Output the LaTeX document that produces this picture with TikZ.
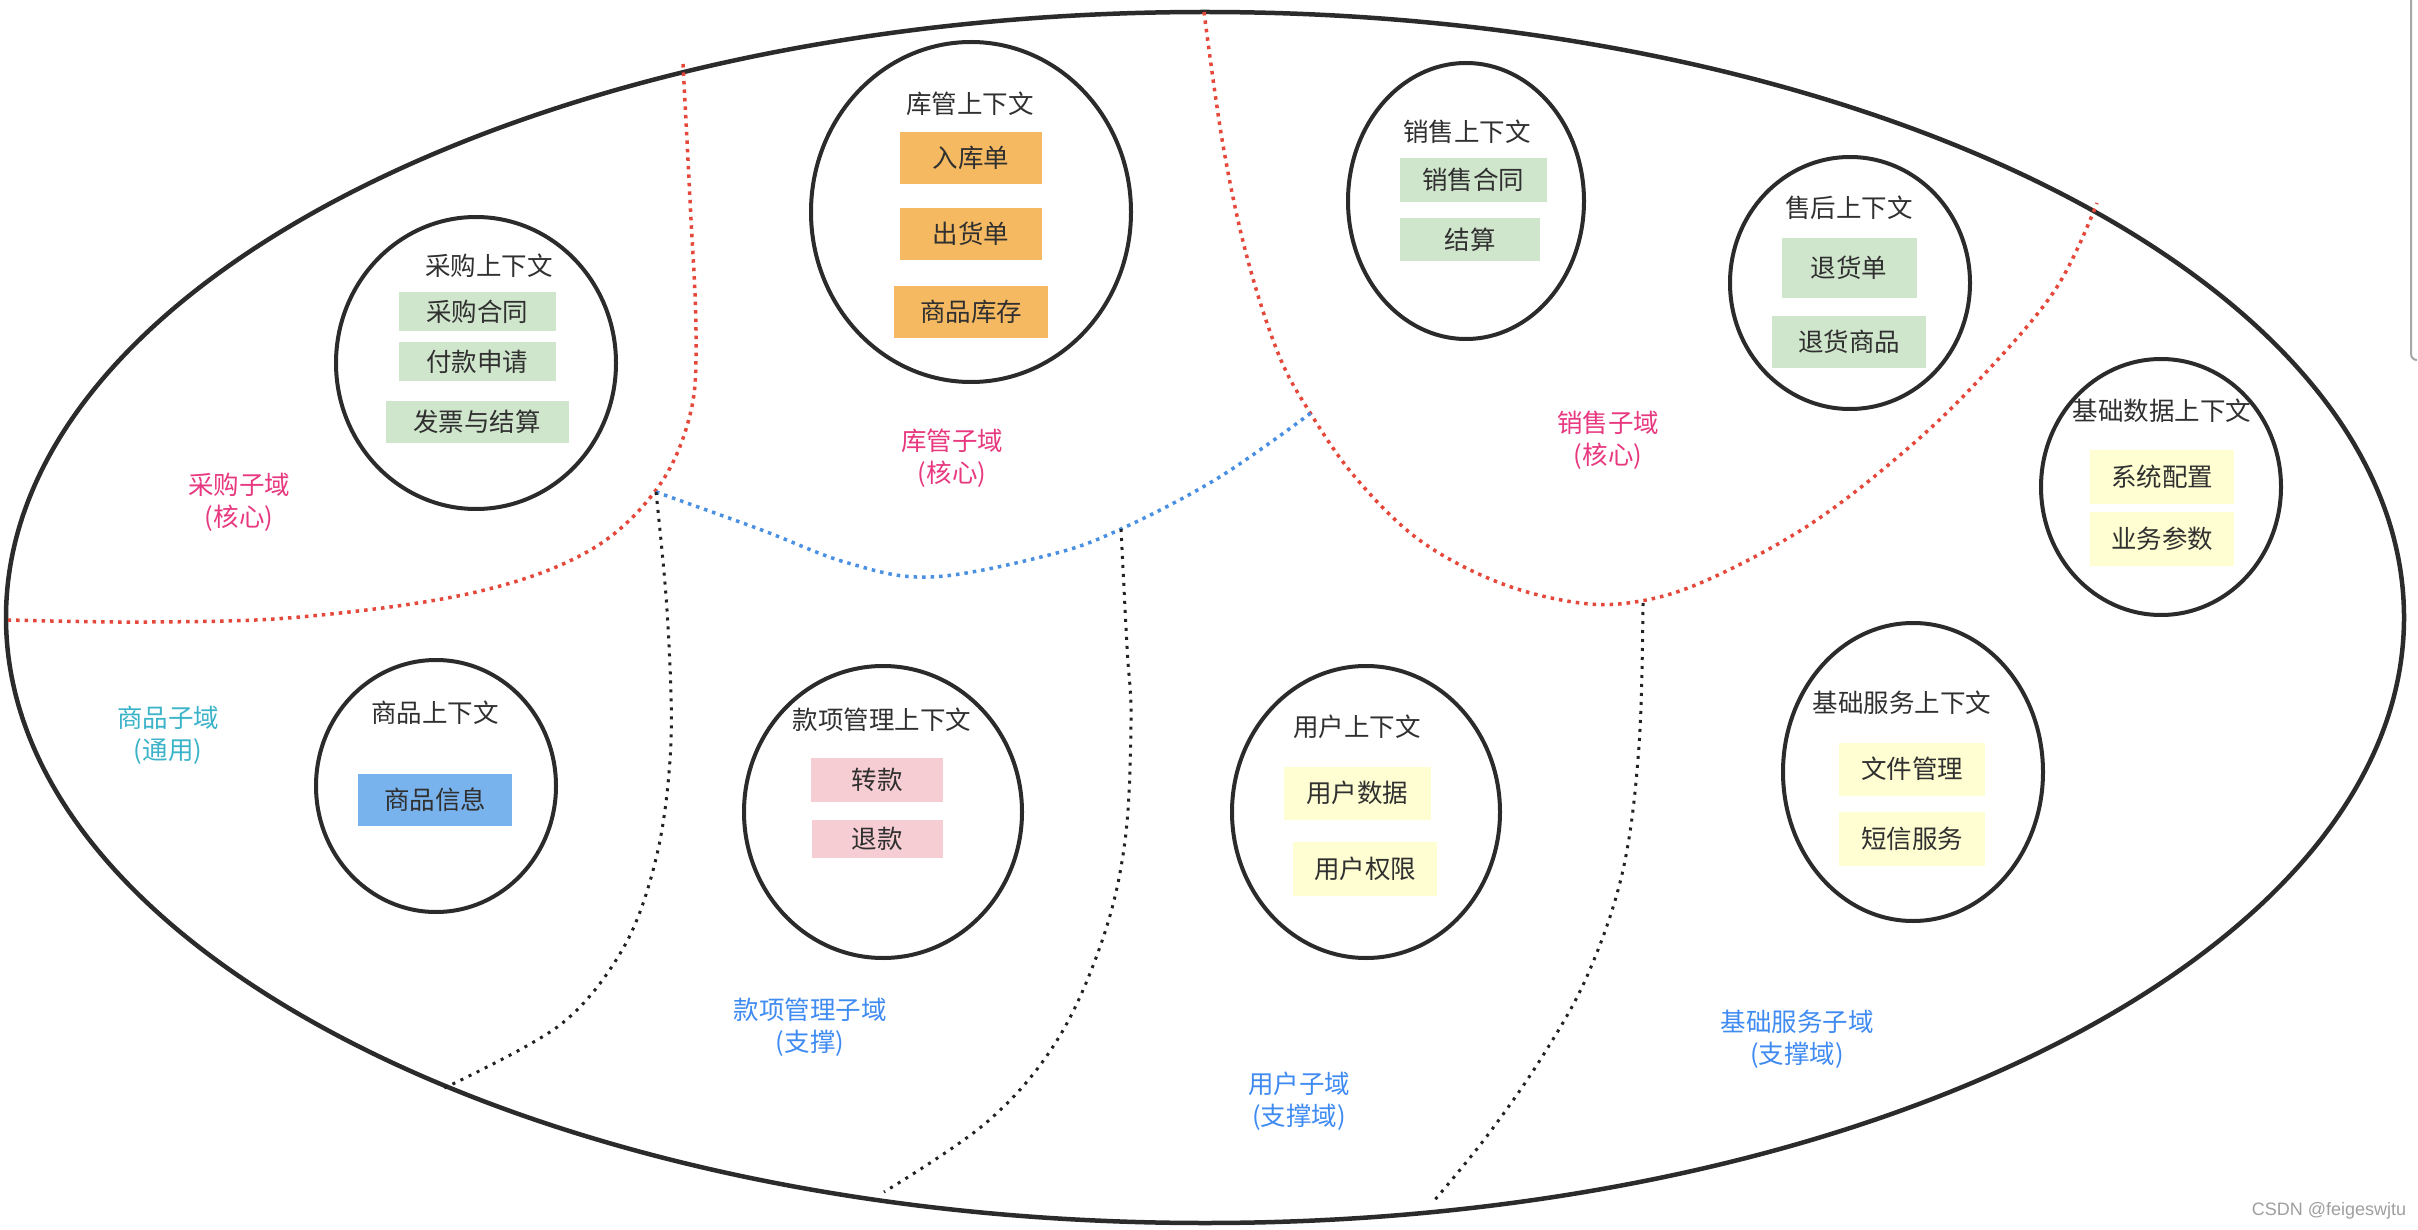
\documentclass[tikz,border=0pt]{standalone}
\usepackage{fontspec}
\setmainfont{Noto Sans CJK SC}
\newfontfamily\wmfont{Liberation Sans}
\usetikzlibrary{shapes.geometric}
\definecolor{outline}{HTML}{2B2B2B}
\definecolor{txt}{HTML}{303030}
\definecolor{gbox}{HTML}{D0E6CC}
\definecolor{obox}{HTML}{F5B961}
\definecolor{bbox}{HTML}{79B3EE}
\definecolor{pbox}{HTML}{F6CDD3}
\definecolor{ybox}{HTML}{FEFED2}
\definecolor{core}{HTML}{E8387F}
\definecolor{generic}{HTML}{3BB3C8}
\definecolor{support}{HTML}{3F8BF2}
\definecolor{reddot}{HTML}{E5473B}
\definecolor{bluedot}{HTML}{4A90E2}
\definecolor{blackdot}{HTML}{222222}
\begin{document}
\begin{tikzpicture}[x=1pt,y=-1pt,
  ctx/.style={draw=outline, line width=4pt, ellipse, inner sep=0pt},
  big/.style={draw=outline, line width=4.5pt, ellipse, inner sep=0pt},
  ttl/.style={font=\fontsize{25.5}{30}\selectfont, text=txt, inner sep=0pt},
  ent/.style={font=\fontsize{25.5}{30}\selectfont, text=txt, inner sep=0pt},
  lbl/.style={font=\fontsize{25.5}{32}\selectfont, align=center, inner sep=0pt},
  rdot/.style={draw=reddot, line width=3.5pt, dash pattern=on 3.5pt off 5pt},
  bdot/.style={draw=bluedot, line width=3.5pt, dash pattern=on 3.5pt off 5pt},
  kdot/.style={draw=blackdot, line width=3pt, dash pattern=on 3pt off 6pt}]
\useasboundingbox (0,0) rectangle (2418,1230);
\fill[white] (0,0) rectangle (2418,1230);

% big domain ellipse
\node[big, minimum width=2398pt, minimum height=1211pt] (domain) at (1205,617.5) {};

% boundaries
\draw[rdot] plot[smooth, tension=0.6] coordinates {(683,64) (690,200) (696,332) (690,415) (656,490) (587,552) (472,593) (300,617) (150,622) (8,620)};
\draw[rdot] plot[smooth, tension=0.6] coordinates {(1204,12) (1223,145) (1247,257) (1278,353) (1309,411) (1355,477) (1418,539) (1495,581) (1573,602) (1635,602) (1705,581) (1806,527) (1899,456) (1977,382) (2055,290) (2097,203)};
\draw[bdot] plot[smooth, tension=0.6] coordinates {(656,492) (759,529) (848,563) (931,577) (1049,555) (1121,529) (1218,478) (1311,413)};
\draw[kdot] plot[smooth, tension=0.55] coordinates {(656,492) (667,610) (671,740) (658,850) (625,945) (560,1025) (440,1090)};
\draw[kdot] plot[smooth, tension=0.6] coordinates {(1121,529) (1127,647) (1131,720) (1125,841) (1102,941) (1056,1042) (987,1122) (884,1192)};
\draw[kdot] plot[smooth, tension=0.6] coordinates {(1643,603) (1639,746) (1623,870) (1588,974) (1542,1057) (1487,1136) (1433,1202)};

% contexts
\node[ctx, minimum width=280pt, minimum height=292pt] (cg) at (476,363) {};
\node[ctx, minimum width=320pt, minimum height=340pt] (kg) at (971,212) {};
\node[ctx, minimum width=236pt, minimum height=276pt] (xs) at (1466,201) {};
\node[ctx, minimum width=240pt, minimum height=252pt] (sh) at (1850,283) {};
\node[ctx, minimum width=240pt, minimum height=256pt] (jcsj) at (2161,487) {};
\node[ctx, minimum width=240pt, minimum height=252pt] (sp) at (436,786) {};
\node[ctx, minimum width=278pt, minimum height=292pt] (kx) at (883,812) {};
\node[ctx, minimum width=268pt, minimum height=292pt] (yh) at (1366,812) {};
\node[ctx, minimum width=260pt, minimum height=298pt] (jcfw) at (1913,772) {};

% titles
\node[ttl] (cgt) at (489,266) {采购上下文};
\node[ttl] (kgt) at (970,104) {库管上下文};
\node[ttl] (xst) at (1467,132) {销售上下文};
\node[ttl] (sht) at (1849,208) {售后上下文};
\node[ttl] (jcsjt) at (2162,411) {基础数据上下文};
\node[ttl] (spt) at (435,713) {商品上下文};
\node[ttl] (kxt) at (882,720) {款项管理上下文};
\node[ttl] (yht) at (1357,727) {用户上下文};
\node[ttl] (jcfwt) at (1902,703) {基础服务上下文};

% entities
\node[ent, fill=gbox, minimum width=157pt, minimum height=39pt] (e1) at (477,312) {采购合同};
\node[ent, fill=gbox, minimum width=157pt, minimum height=39pt] (e2) at (477,362) {付款申请};
\node[ent, fill=gbox, minimum width=183pt, minimum height=42pt] (e3) at (477,422) {发票与结算};
\node[ent, fill=obox, minimum width=142pt, minimum height=52pt] (e4) at (971,158) {入库单};
\node[ent, fill=obox, minimum width=142pt, minimum height=52pt] (e5) at (971,234) {出货单};
\node[ent, fill=obox, minimum width=154pt, minimum height=52pt] (e6) at (971,312) {商品库存};
\node[ent, fill=gbox, minimum width=147pt, minimum height=44pt] (e7) at (1473,180) {销售合同};
\node[ent, fill=gbox, minimum width=140pt, minimum height=43pt] (e8) at (1470,240) {结算};
\node[ent, fill=gbox, minimum width=135pt, minimum height=60pt] (e9) at (1849,268) {退货单};
\node[ent, fill=gbox, minimum width=154pt, minimum height=52pt] (e10) at (1849,342) {退货商品};
\node[ent, fill=ybox, minimum width=144pt, minimum height=54pt] (e11) at (2162,477) {系统配置};
\node[ent, fill=ybox, minimum width=144pt, minimum height=54pt] (e12) at (2162,539) {业务参数};
\node[ent, fill=bbox, minimum width=154pt, minimum height=52pt] (e13) at (435,800) {商品信息};
\node[ent, fill=pbox, minimum width=132pt, minimum height=44pt] (e14) at (877,780) {转款};
\node[ent, fill=pbox, minimum width=131pt, minimum height=38pt] (e15) at (877,839) {退款};
\node[ent, fill=ybox, minimum width=147pt, minimum height=53pt] (e16) at (1357,793) {用户数据};
\node[ent, fill=ybox, minimum width=144pt, minimum height=54pt] (e17) at (1365,869) {用户权限};
\node[ent, fill=ybox, minimum width=146pt, minimum height=53pt] (e18) at (1912,769) {文件管理};
\node[ent, fill=ybox, minimum width=146pt, minimum height=54pt] (e19) at (1912,839) {短信服务};

% subdomain labels
\node[lbl, text=core] (l1) at (239,502) {采购子域\\(核心)};
\node[lbl, text=core] (l2) at (952,458) {库管子域\\(核心)};
\node[lbl, text=core] (l3) at (1608,440) {销售子域\\(核心)};
\node[lbl, text=generic] (l4) at (168,735) {商品子域\\(通用)};
\node[lbl, text=support] (l5) at (810,1027) {款项管理子域\\(支撑)};
\node[lbl, text=support] (l6) at (1299,1101) {用户子域\\(支撑域)};
\node[lbl, text=support] (l7) at (1797,1039) {基础服务子域\\(支撑域)};

% screenshot edge and watermark
\draw[gray!70, line width=2pt] (2411,0) -- (2411,354) arc[start angle=180, end angle=270, radius=6pt];
\node[font=\wmfont\fontsize{18}{20}\selectfont, text=gray!75, inner sep=0pt] (wm) at (2329,1211) {CSDN @feigeswjtu};
\end{tikzpicture}
\end{document}
